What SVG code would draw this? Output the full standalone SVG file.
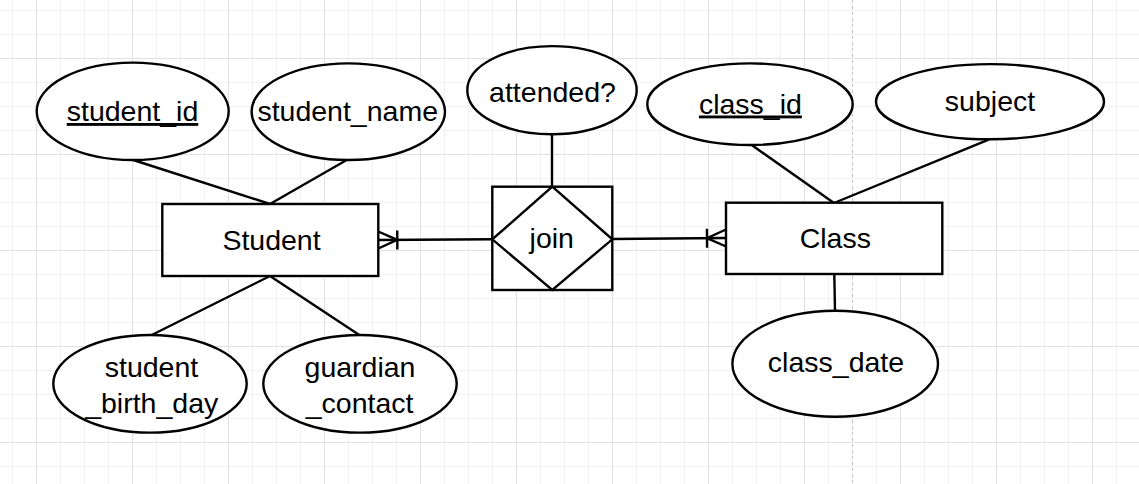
<svg xmlns="http://www.w3.org/2000/svg" width="1139" height="484" viewBox="0 0 1139 484">
  <defs>
    <pattern id="gridMinor" x="12" y="10" width="24" height="24" patternUnits="userSpaceOnUse">
      <path d="M0.5 0 V24 M0 0.5 H24" fill="none" stroke="#f2f2f2" stroke-width="1"/>
    </pattern>
    <pattern id="gridMajor" x="36" y="58" width="96" height="96" patternUnits="userSpaceOnUse">
      <path d="M0.5 0 V96 M0 0.5 H96" fill="none" stroke="#e2e2e2" stroke-width="1"/>
    </pattern>
    <marker id="oneToMany" viewBox="-25 -12 30 24" markerWidth="30" markerHeight="24" refX="0" refY="0" markerUnits="userSpaceOnUse" orient="auto" overflow="visible">
      <path d="M0,-8.5 L-19,0 L0,8.5 M-19,-9.5 V9.5" fill="none" stroke="#000" stroke-width="2.4"/>
    </marker>
    <style>
      .shape { fill: #ffffff; stroke: #000000; stroke-width: 2.4; }
      .edge { fill: none; stroke: #000000; stroke-width: 2.4; }
      .label { font-family: "Liberation Sans", Arial, Helvetica, sans-serif; font-size: 28.5px; fill: #000000; text-anchor: middle; }
      .key { text-decoration: underline; }
    </style>
  </defs>

  <rect x="0" y="0" width="1139" height="484" fill="#ffffff"/>
  <rect x="0" y="0" width="1139" height="484" fill="url(#gridMinor)"/>
  <rect x="0" y="0" width="1139" height="484" fill="url(#gridMajor)"/>
  <line x1="852.5" y1="0" x2="852.5" y2="484" stroke="#c4c4c4" stroke-width="1" stroke-dasharray="3 3"/>

  <g id="connectors">
    <line class="edge" x1="133.3" y1="160" x2="270" y2="204"/>
    <line class="edge" x1="346.7" y1="160" x2="270" y2="204"/>
    <line class="edge" x1="270" y1="276" x2="151.7" y2="335"/>
    <line class="edge" x1="270" y1="276" x2="359.3" y2="335"/>
    <line class="edge" x1="552" y1="134.3" x2="552" y2="186.7"/>
    <path class="edge" d="M492.3,239.3 L378.3,240" marker-end="url(#oneToMany)"/>
    <path class="edge" d="M612.3,239 L726,238" marker-end="url(#oneToMany)"/>
    <line class="edge" x1="751.7" y1="145" x2="834" y2="203"/>
    <line class="edge" x1="989.3" y1="139.3" x2="834" y2="203"/>
    <line class="edge" x1="834.3" y1="274" x2="835" y2="310.7"/>
  </g>

  <g id="student_id">
    <ellipse class="shape" cx="132.7" cy="111.3" rx="96" ry="48.7"/>
    <text class="label key" x="132.5" y="121">student_id</text>
  </g>
  <g id="student_name">
    <ellipse class="shape" cx="348.3" cy="111.7" rx="96.7" ry="48.3"/>
    <text class="label" x="347.7" y="121">student_name</text>
  </g>
  <g id="attended">
    <ellipse class="shape" cx="552" cy="90.2" rx="84.7" ry="44.1"/>
    <text class="label" x="552.5" y="102">attended?</text>
  </g>
  <g id="class_id">
    <ellipse class="shape" cx="750" cy="104.2" rx="102.7" ry="40.8"/>
    <text class="label key" x="750.4" y="113.5">class_id</text>
  </g>
  <g id="subject">
    <ellipse class="shape" cx="990" cy="101.7" rx="114" ry="37.6"/>
    <text class="label" x="990" y="110.5">subject</text>
  </g>
  <g id="Student">
    <rect class="shape" x="162.3" y="204" width="216" height="72"/>
    <text class="label" x="271.5" y="249.5">Student</text>
  </g>
  <g id="join">
    <rect class="shape" x="492.3" y="186.7" width="120" height="103.3"/>
    <path class="shape" d="M552.3,186.7 L612.3,239.3 L552.3,290 L492.3,239.3 Z"/>
    <text class="label" x="551.8" y="247.5">join</text>
  </g>
  <g id="Class">
    <rect class="shape" x="726" y="202.7" width="216.3" height="71.3"/>
    <text class="label" x="835.3" y="247.5">Class</text>
  </g>
  <g id="student_birth_day">
    <ellipse class="shape" cx="150" cy="383.8" rx="96.7" ry="48.8"/>
    <text class="label" x="151.5" y="376.7">student</text>
    <text class="label" x="151.7" y="413.3">_birth_day</text>
  </g>
  <g id="guardian_contact">
    <ellipse class="shape" cx="360" cy="383.8" rx="96.7" ry="48.8"/>
    <text class="label" x="360" y="376.7">guardian</text>
    <text class="label" x="359.6" y="413.3">_contact</text>
  </g>
  <g id="class_date">
    <ellipse class="shape" cx="835.2" cy="363.7" rx="102.8" ry="53"/>
    <text class="label" x="836" y="372">class_date</text>
  </g>
</svg>
